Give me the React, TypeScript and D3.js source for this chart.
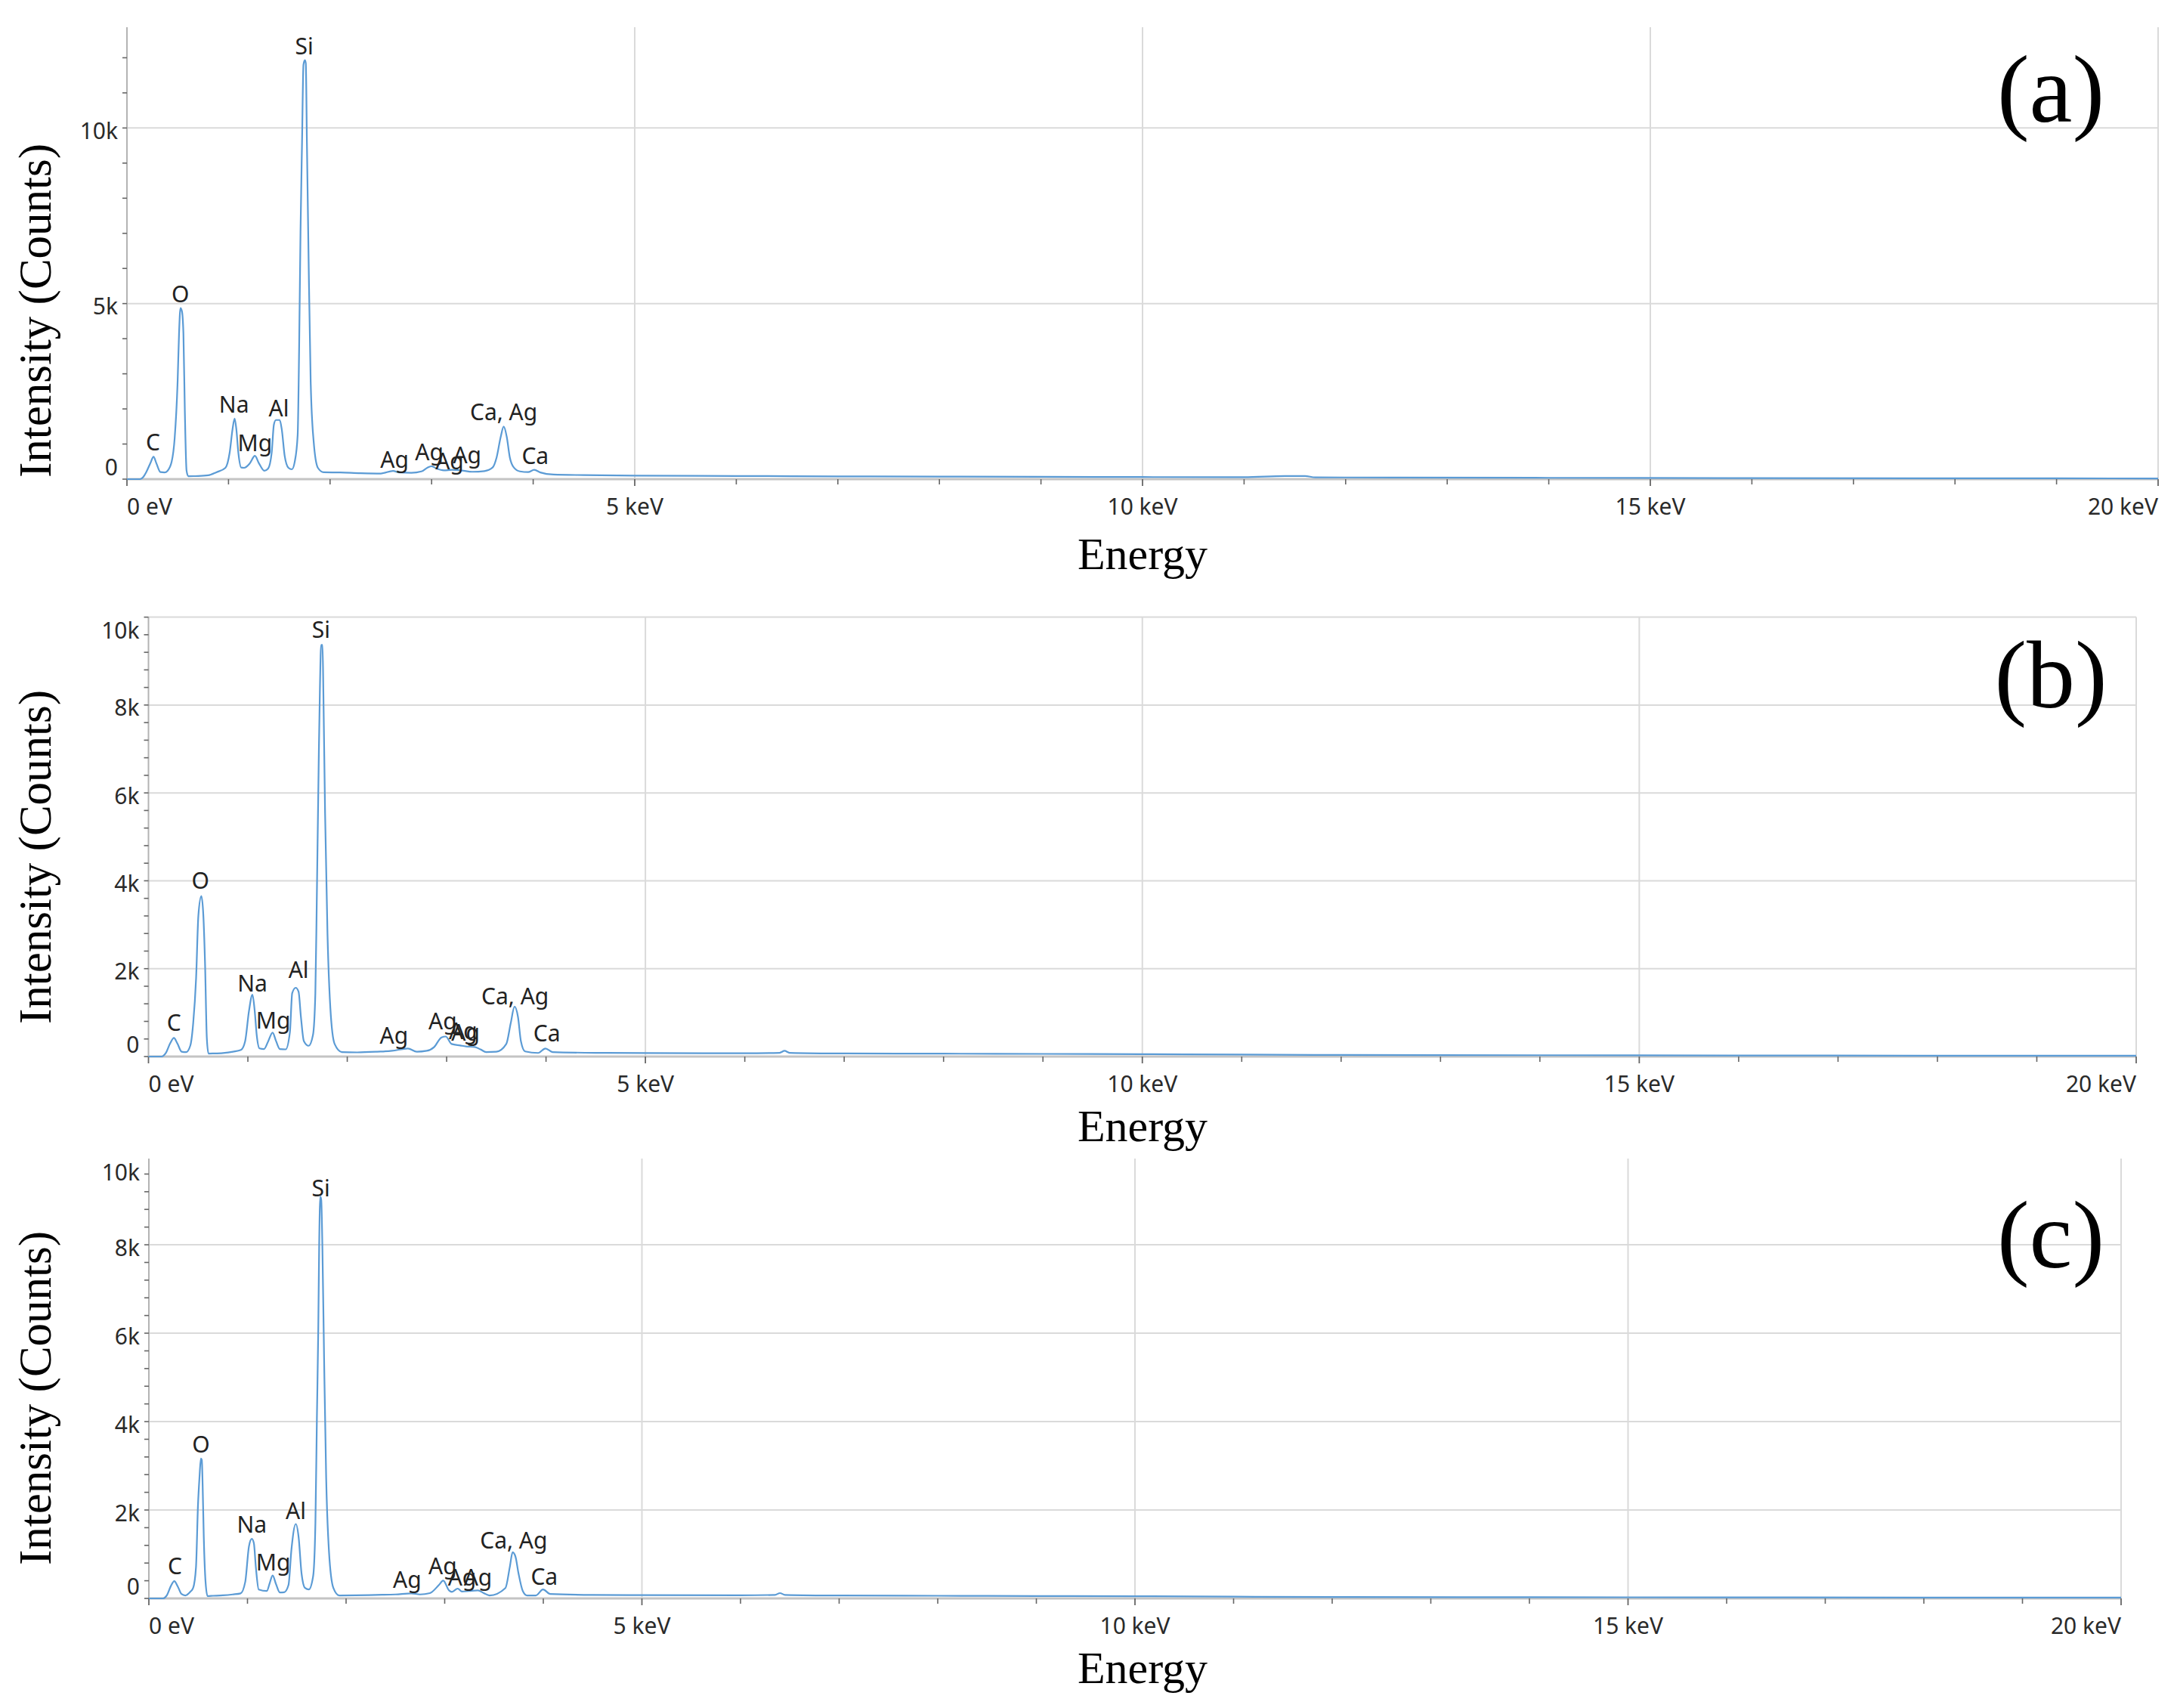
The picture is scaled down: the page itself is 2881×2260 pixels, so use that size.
import React from 'react';
import * as d3 from 'd3';

// ---------------- DATA ----------------
const panelNames = ['(a)', '(b)', '(c)'];
const energyTickValues = [0, 5, 10, 15, 20];
const energyTickLabels = ['0 eV', '5 keV', '10 keV', '15 keV', '20 keV'];
const energyMinorTicks = [1, 2, 3, 4, 6, 7, 8, 9, 11, 12, 13, 14, 16, 17, 18, 19];

const countTicksA = [0, 5000, 10000];
const countTickLabelsA = ['0', '5k', '10k'];
const countTicksBC = [0, 2000, 4000, 6000, 8000, 10000];
const countTickLabelsBC = ['0', '2k', '4k', '6k', '8k', '10k'];

// [energy keV, counts]
const spectrumA: [number, number][] = [
  [0, 0], [0.13, 0], [0.16, 60], [0.19, 200], [0.23, 450], [0.262, 638], [0.29, 450], [0.33, 200], [0.37, 190],
  [0.4, 238], [0.44, 493], [0.47, 1173], [0.499, 2789], [0.513, 4150], [0.527, 4872], [0.541, 4787], [0.556, 4150],
  [0.57, 1939], [0.587, 238], [0.604, 85], [0.7, 90], [0.8, 110], [0.88, 196], [0.97, 323],
  [1.011, 748], [1.04, 1428], [1.06, 1726], [1.077, 1428], [1.097, 748], [1.125, 330], [1.154, 323],
  [1.21, 450], [1.26, 663], [1.3, 450], [1.353, 238], [1.39, 300],
  [1.425, 748], [1.447, 1556], [1.467, 1684], [1.504, 1684], [1.524, 1428], [1.553, 663], [1.59, 323], [1.624, 280],
  [1.652, 493], [1.681, 1258], [1.695, 3640], [1.709, 7040], [1.724, 9592], [1.738, 11803], [1.752, 11930],
  [1.761, 11845], [1.772, 9592], [1.789, 6190], [1.809, 2789], [1.838, 1088], [1.88, 323], [1.937, 196],
  [2.1, 190], [2.3, 170], [2.5, 160], [2.62, 235], [2.68, 190], [2.8, 180], [2.9, 220], [2.96, 330], [3.0, 370],
  [3.05, 300], [3.12, 250], [3.2, 265], [3.3, 245], [3.4, 210], [3.52, 230], [3.6, 330], [3.64, 620],
  [3.68, 1200], [3.71, 1497], [3.74, 1200], [3.77, 620], [3.81, 330], [3.87, 220], [3.95, 200], [4.01, 265],
  [4.07, 190], [4.2, 130], [4.5, 115], [5.0, 100], [6.0, 90], [7.0, 80], [8.0, 72], [9.0, 66], [10.0, 60],
  [11.0, 55], [11.4, 90], [11.6, 90], [11.7, 50], [12.5, 45], [14.0, 38], [16.0, 30], [18.0, 25], [20.0, 20],
];

const spectrumB: [number, number][] = [
  [0, 0], [0.131, 0], [0.174, 80], [0.218, 300], [0.256, 422], [0.29, 300], [0.334, 110], [0.378, 100],
  [0.421, 250], [0.45, 762], [0.479, 1782], [0.502, 3211], [0.532, 3653], [0.552, 3211], [0.569, 2122],
  [0.587, 422], [0.604, 68], [0.65, 70], [0.75, 80], [0.85, 110], [0.93, 150],
  [0.973, 354], [1.011, 1034], [1.046, 1408], [1.069, 1034], [1.089, 490], [1.118, 184], [1.162, 170],
  [1.205, 350], [1.249, 544], [1.284, 350], [1.322, 170], [1.38, 163],
  [1.423, 558], [1.446, 1442], [1.481, 1565], [1.51, 1476], [1.534, 898], [1.563, 354], [1.612, 245],
  [1.655, 490], [1.679, 1442], [1.693, 3483], [1.714, 6884], [1.725, 8381], [1.737, 9367], [1.751, 9367],
  [1.76, 8245], [1.777, 5524], [1.801, 2803], [1.83, 1102], [1.873, 286], [1.946, 102],
  [2.1, 95], [2.3, 110], [2.45, 130], [2.61, 184], [2.7, 110], [2.8, 130],
  [2.875, 218], [2.948, 435], [2.991, 456], [3.05, 286], [3.137, 252], [3.195, 230], [3.282, 218], [3.34, 163],
  [3.398, 102], [3.5, 110], [3.6, 286], [3.645, 762], [3.683, 1136], [3.718, 898], [3.747, 354], [3.79, 116],
  [3.92, 82], [3.994, 184], [4.066, 102], [4.5, 85], [5.0, 80], [6.0, 75], [6.35, 85], [6.4, 130], [6.45, 85],
  [7.0, 70], [8.0, 65], [9.0, 60], [10.0, 55], [11.0, 45], [12.0, 35], [14.0, 30], [16.0, 25], [18.0, 20], [20.0, 18],
];

const spectrumC: [number, number][] = [
  [0, 0], [0.141, 0], [0.185, 80], [0.223, 280], [0.258, 391], [0.293, 270], [0.331, 100], [0.37, 67],
  [0.42, 150], [0.449, 236], [0.478, 707], [0.498, 2100], [0.513, 2727], [0.528, 3165], [0.537, 3130],
  [0.545, 2593], [0.557, 1380], [0.575, 370], [0.595, 54], [0.65, 60], [0.75, 70], [0.85, 90], [0.93, 114],
  [0.977, 370], [1.015, 1178], [1.044, 1347], [1.065, 1246], [1.085, 707], [1.114, 202], [1.196, 168],
  [1.226, 350], [1.255, 519], [1.29, 320], [1.328, 135], [1.372, 140],
  [1.416, 303], [1.446, 1111], [1.49, 1684], [1.519, 1380], [1.548, 572], [1.584, 236], [1.622, 202],
  [1.666, 505], [1.689, 1717], [1.704, 4074], [1.718, 6094], [1.727, 7980], [1.739, 9091], [1.748, 9020],
  [1.76, 7912], [1.777, 5421], [1.798, 2727], [1.827, 1044], [1.871, 236], [1.93, 67],
  [2.1, 70], [2.3, 80], [2.5, 90], [2.66, 114], [2.75, 90], [2.85, 120],
  [2.941, 303], [2.985, 404], [3.044, 182], [3.073, 148], [3.132, 222], [3.176, 155], [3.249, 168], [3.337, 182],
  [3.396, 120], [3.455, 67], [3.616, 236], [3.66, 707], [3.689, 1044], [3.718, 943], [3.748, 572], [3.792, 168],
  [3.836, 67], [3.924, 67], [3.997, 202], [4.07, 100], [4.5, 80], [5.0, 75], [6.0, 70], [6.35, 80], [6.4, 120],
  [6.45, 80], [7.0, 65], [8.0, 60], [9.0, 55], [10.0, 50], [11.0, 40], [12.0, 32], [14.0, 28], [16.0, 24],
  [18.0, 20], [20.0, 18],
];

// peak annotations: [text, energy keV, counts at label baseline]
const peakLabelsA: [string, number, number][] = [
  ['C', 0.256, 816], ['O', 0.527, 5042], ['Na', 1.054, 1896], ['Mg', 1.26, 791], ['Al', 1.496, 1786],
  ['Si', 1.746, 12100], ['Ag', 2.635, 323], ['Ag', 2.977, 536], ['Ag', 3.177, 281], ['Ag', 3.35, 451],
  ['Ca, Ag', 3.71, 1684], ['Ca', 4.02, 425],
];
const peakLabelsB: [string, number, number][] = [
  ['C', 0.256, 592], ['O', 0.523, 3823], ['Na', 1.046, 1476], ['Mg', 1.255, 639], ['Al', 1.51, 1782],
  ['Si', 1.737, 9524], ['Ag', 2.47, 286], ['Ag', 2.96, 612], ['Ag', 3.166, 388], ['Ag', 3.19, 354],
  ['Ca, Ag', 3.689, 1184], ['Ca', 4.008, 340],
];
const peakLabelsC: [string, number, number][] = [
  ['C', 0.264, 539], ['O', 0.528, 3300], ['Na', 1.044, 1481], ['Mg', 1.261, 640], ['Al', 1.49, 1798],
  ['Si', 1.745, 9091], ['Ag', 2.62, 236], ['Ag', 2.98, 539], ['Ag', 3.176, 290], ['Ag', 3.337, 290],
  ['Ca, Ag', 3.7, 1131], ['Ca', 4.01, 303],
];

const spectra = [spectrumA, spectrumB, spectrumC];
const peakLabels = [peakLabelsA, peakLabelsB, peakLabelsC];
const countTicks = [countTicksA, countTicksBC, countTicksBC];
const countTickLabels = [countTickLabelsA, countTickLabelsBC, countTickLabelsBC];

// ---------------- LAYOUT ----------------
const W = 2881;
const H = 2260;
const layouts = [
  { left: 168, right: 2856, top: 36, bottom: 634, yMax: 12870, minorStep: 1000, titleY: 411, energyY: 753, nameY: 161 },
  { left: 196.5, right: 2827, top: 816.6, bottom: 1398, yMax: 10000, minorStep: 400, titleY: 1134, energyY: 1510, nameY: 936 },
  { left: 197, right: 2807, top: 1533, bottom: 2115, yMax: 9950, minorStep: 400, titleY: 1850, energyY: 2227, nameY: 1677 },
];

const SANS = '"Noto Sans", "Open Sans", sans-serif';
const SERIF = '"Liberation Serif", "Times New Roman", serif';
const LINE = '#5b9bd5';
const GRID = '#dadada';

function Panel({ i }: { i: number }) {
  const L = layouts[i];
  const x = d3.scaleLinear().domain([0, 20]).range([L.left, L.right]);
  const y = d3.scaleLinear().domain([0, L.yMax]).range([L.bottom, L.top]);
  const line = d3
    .line<[number, number]>()
    .x((d) => x(d[0]))
    .y((d) => y(d[1]))
    .curve(d3.curveMonotoneX);
  const minor = d3.range(0, L.yMax + 1, L.minorStep);
  const ticks = countTicks[i];
  const tickLabels = countTickLabels[i];

  return (
    <g>
      {energyTickValues.slice(1).map((v) => (
        <line key={'vg' + v} x1={x(v)} x2={x(v)} y1={L.top} y2={L.bottom} stroke={GRID} strokeWidth={2} />
      ))}
      {ticks
        .filter((v) => v > 0 && v <= L.yMax)
        .map((v) => (
          <line key={'hg' + v} x1={L.left} x2={L.right} y1={y(v)} y2={y(v)} stroke={GRID} strokeWidth={2} />
        ))}
      <line x1={L.left} x2={L.left} y1={L.top} y2={L.bottom} stroke="#b4b4b4" strokeWidth={2} />
      {minor.map((v) => (
        <line key={'ym' + v} x1={L.left - 6} x2={L.left} y1={y(v)} y2={y(v)} stroke="#666" strokeWidth={1.6} />
      ))}
      {ticks.map((v, k) => {
        const yy = Math.min(Math.max(y(v) + 3, L.top + 17), L.bottom - 17);
        return (
          <text
            key={'yl' + v}
            x={L.left - 12}
            y={yy}
            textAnchor="end"
            dominantBaseline="central"
            fontFamily={SANS}
            fontSize={30}
            fill="#2a2a2a"
          >
            {tickLabels[k]}
          </text>
        );
      })}
      <line x1={L.left} x2={L.right} y1={L.bottom} y2={L.bottom} stroke="#c4c4c4" strokeWidth={3} />
      {energyMinorTicks.map((v) => (
        <line key={'xm' + v} x1={x(v)} x2={x(v)} y1={L.bottom} y2={L.bottom + 7} stroke="#666" strokeWidth={1.6} />
      ))}
      {energyTickValues.map((v) => (
        <line key={'xM' + v} x1={x(v)} x2={x(v)} y1={L.bottom} y2={L.bottom + 9} stroke="#666" strokeWidth={1.8} />
      ))}
      {energyTickValues.map((v, k) => (
        <text
          key={'xl' + v}
          x={x(v)}
          y={L.bottom + 47}
          textAnchor={k === 0 ? 'start' : k === energyTickValues.length - 1 ? 'end' : 'middle'}
          fontFamily={SANS}
          fontSize={30}
          fill="#2a2a2a"
        >
          {energyTickLabels[k]}
        </text>
      ))}
      <path d={line(spectra[i]) || ''} fill="none" stroke={LINE} strokeWidth={2.2} strokeLinejoin="round" />
      {peakLabels[i].map(([t, e, c], k) => (
        <text
          key={'pl' + k}
          x={x(e)}
          y={y(c)}
          textAnchor="middle"
          fontFamily={SANS}
          fontSize={30}
          fill="#222"
        >
          {t}
        </text>
      ))}
      <text
        transform={`translate(67,${L.titleY}) rotate(-90)`}
        textAnchor="middle"
        fontFamily={SERIF}
        fontSize={61}
        fill="#000"
      >
        Intensity (Counts)
      </text>
      <text x={1512} y={L.energyY} textAnchor="middle" fontFamily={SERIF} fontSize={60} fill="#000">
        Energy
      </text>
      <text x={2714} y={L.nameY} textAnchor="middle" fontFamily={SERIF} fontSize={128} fill="#000">
        {panelNames[i]}
      </text>
    </g>
  );
}

export default function App() {
  return (
    <svg
      width={W}
      height={H}
      viewBox={`0 0 ${W} ${H}`}
      style={{ position: 'absolute', left: 0, top: 0, display: 'block', background: '#fff' }}
    >
      <rect x={0} y={0} width={W} height={H} fill="#fff" />
      {[0, 1, 2].map((i) => (
        <Panel key={i} i={i} />
      ))}
    </svg>
  );
}
